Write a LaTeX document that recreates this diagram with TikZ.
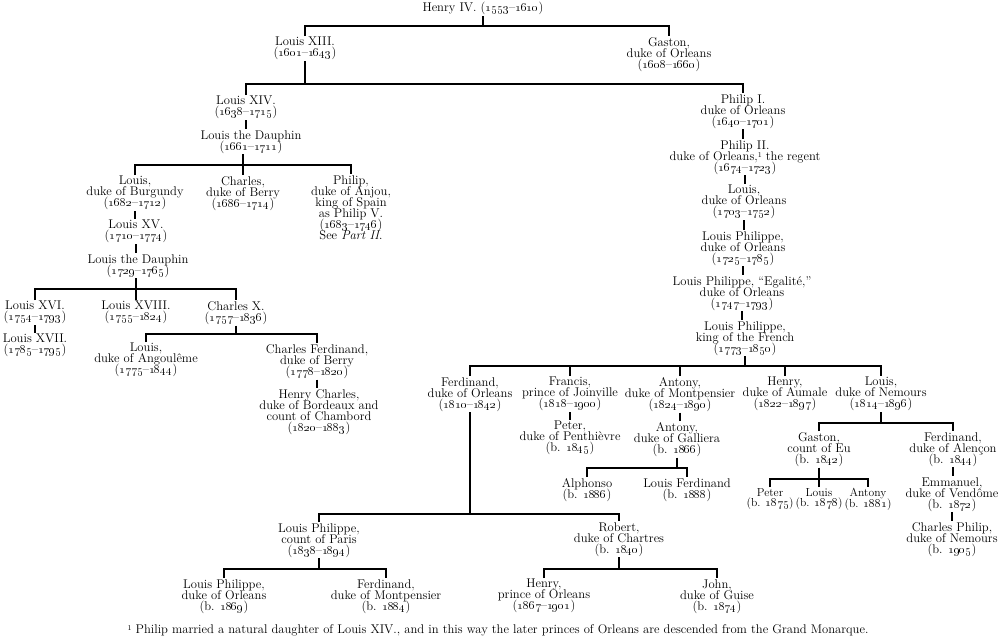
\documentclass[tikz,border=0pt]{standalone}
\newcommand\yr[2]{(\oldstylenums{#1}--\oldstylenums{#2})}
\newcommand\bn[1]{(b. \oldstylenums{#1})}
\newcommand\fnmark{\smash{\raisebox{2.6pt}{\fontsize{7.5}{7.5}\selectfont 1}}}
\newcommand\famfont{\fontsize{12.6}{11}\selectfont\lineskiplimit=-20pt\relax}
\newcommand\smallfamfont{\fontsize{11.6}{10.5}\selectfont\lineskiplimit=-20pt\relax}
\begin{document}
\begin{tikzpicture}[x=1pt,y=-1pt,
  person/.style={anchor=north,yshift=6.9pt,align=center,inner sep=1pt,font=\famfont},
  small/.style={person,font=\smallfamfont},
  link/.style={line width=1.1pt,line join=miter}]
\useasboundingbox (0,0) rectangle (1000,638);
% bar levels
\coordinate (barA) at (0,26);
\coordinate (barB) at (0,84);
\coordinate (barC) at (0,165);
\coordinate (barD) at (0,289);
\coordinate (barE) at (0,334);
\coordinate (barF) at (0,366);
\coordinate (barG) at (0,468);
\coordinate (barH) at (0,514);
\coordinate (barI) at (0,569);
\coordinate (barJ) at (0,423);
\coordinate (barK) at (0,479);
% people
\node[person] (henry) at (483,8) {Henry IV. \yr{1553}{1610}};
\node[person] (louis13) at (305,43) {Louis XIII.\\\yr{1601}{1643}};
\node[person] (gaston) at (669,43) {Gaston,\\duke of Orleans\\\yr{1608}{1660}};
\node[person] (louis14) at (246,102) {Louis XIV.\\\yr{1638}{1715}};
\node[person] (dauphinA) at (251,136) {Louis the Dauphin\\\yr{1661}{1711}};
\node[person] (burgundy) at (135,182) {Louis,\\duke of Burgundy\\\yr{1682}{1712}};
\node[person] (berryA) at (243,182) {Charles,\\duke of Berry\\\yr{1686}{1714}};
\node[person] (anjou) at (351,181) {Philip,\\duke of Anjou,\\king of Spain\\as Philip V.\\\yr{1683}{1746}\\See \textit{Part II}.};
\node[person] (louis15) at (136,226) {Louis XV.\\\yr{1710}{1774}};
\node[person] (dauphinB) at (138,260) {Louis the Dauphin\\\yr{1729}{1765}};
\node[person] (louis16) at (35,307) {Louis XVI.\\\yr{1754}{1793}};
\node[person] (louis18) at (136,307) {Louis XVIII.\\\yr{1755}{1824}};
\node[person] (charles10) at (236,307) {Charles X.\\\yr{1757}{1836}};
\node[person] (louis17) at (35,340) {Louis XVII.\\\yr{1785}{1795}};
\node[person] (angouleme) at (146,349) {Louis,\\duke of Angoulême\\\yr{1775}{1844}};
\node[person] (berryB) at (317,350) {Charles Ferdinand,\\duke of Berry\\\yr{1778}{1820}};
\node[person] (chambord) at (319,395) {Henry Charles,\\duke of Bordeaux and\\count of Chambord\\\yr{1820}{1883}};
\node[person] (philip1) at (743,100) {Philip I.\\duke of Orleans\\\yr{1640}{1701}};
\node[person] (philip2) at (745,146) {Philip II.\\duke of Orleans,\fnmark\ the regent\\\yr{1674}{1723}};
\node[person] (louisorl) at (744,191) {Louis,\\duke of Orleans\\\yr{1703}{1752}};
\node[person] (lpA) at (743,237) {Louis Philippe,\\duke of Orleans\\\yr{1725}{1785}};
\node[person] (egalite) at (742,282) {Louis Philippe, ``Egalité,''\\duke of Orleans\\\yr{1747}{1793}};
\node[person] (lpking) at (745,327) {Louis Philippe,\\king of the French\\\yr{1773}{1850}};
\node[person] (ferdorl) at (470,383) {Ferdinand,\\duke of Orleans\\\yr{1810}{1842}};
\node[person] (francis) at (570,383) {Francis,\\prince of Joinville\\\yr{1818}{1900}};
\node[person] (antony) at (680,383) {Antony,\\duke of Montpensier\\\yr{1824}{1890}};
\node[person] (aumale) at (785,383) {Henry,\\duke of Aumale\\\yr{1822}{1897}};
\node[person] (nemours) at (881,383) {Louis,\\duke of Nemours\\\yr{1814}{1896}};
\node[person] (penthievre) at (570,427) {Peter,\\duke of Penthièvre\\\bn{1845}};
\node[person] (galliera) at (677,428) {Antony,\\duke of Galliera\\\bn{1866}};
\node[person] (alphonso) at (587,484) {Alphonso\\\bn{1886}};
\node[person] (louisferd) at (687,484) {Louis Ferdinand\\\bn{1888}};
\node[person] (eu) at (819,438) {Gaston,\\count of Eu\\\bn{1842}};
\node[person] (alencon) at (953,438) {Ferdinand,\\duke of Alençon\\\bn{1844}};
\node[small] (peter) at (770,494) {Peter\\\bn{1875}};
\node[small] (louisb) at (819,494) {Louis\\\bn{1878}};
\node[small] (antonyb) at (868,494) {Antony\\\bn{1881}};
\node[person] (vendome) at (952,483) {Emmanuel,\\duke of Vendôme\\\bn{1872}};
\node[person] (nemoursB) at (952,528) {Charles Philip,\\duke of Nemours\\\bn{1905}};
\node[person] (paris) at (319,529) {Louis Philippe,\\count of Paris\\\yr{1838}{1894}};
\node[person] (chartres) at (619,528) {Robert,\\duke of Chartres\\\bn{1840}};
\node[person] (lpduke) at (224,585) {Louis Philippe,\\duke of Orleans\\\bn{1869}};
\node[person] (montpensier) at (386,585) {Ferdinand,\\duke of Montpensier\\\bn{1884}};
\node[person] (henryorl) at (544,585) {Henry,\\prince of Orleans\\\yr{1867}{1901}};
\node[person] (guise) at (717,585) {John,\\duke of Guise\\\bn{1874}};
\node[person] (note) at (498,630) {\fnmark\ Philip married a natural daughter of Louis XIV., and in this way the later princes of Orleans are descended from the Grand Monarque.};
% connectors
\begin{scope}[link]
\draw (henry.south) -- (henry.south |- barA);
\draw (louis13.north) -- (louis13.north |- barA) -- (gaston.north |- barA) -- (gaston.north);
\draw (louis13.south) -- (louis13.south |- barB);
\draw (louis14.north) -- (louis14.north |- barB) -- (philip1.north |- barB) -- (philip1.north);
\draw (louis14.south) -- (louis14.south |- dauphinA.north);
\draw (berryA.north |- dauphinA.south) -- (berryA.north);
\draw (burgundy.north) -- (burgundy.north |- barC) -- (anjou.north |- barC) -- (anjou.north);
\draw (burgundy.south) -- (burgundy.south |- louis15.north);
\draw (louis15.south) -- (louis15.south |- dauphinB.north);
\draw (louis18.north |- dauphinB.south) -- (louis18.north);
\draw (louis16.north) -- (louis16.north |- barD) -- (charles10.north |- barD) -- (charles10.north);
\draw (louis16.south) -- (louis16.south |- louis17.north);
\draw (charles10.south) -- (charles10.south |- barE);
\draw (angouleme.north) -- (angouleme.north |- barE) -- (berryB.north |- barE) -- (berryB.north);
\draw (berryB.south) -- (berryB.south |- chambord.north);
\draw (philip1.south) -- (philip1.south |- philip2.north);
\draw (philip2.south) -- (philip2.south |- louisorl.north);
\draw (louisorl.south) -- (louisorl.south |- lpA.north);
\draw (lpA.south) -- (lpA.south |- egalite.north);
\draw (egalite.south) -- (egalite.south |- lpking.north);
\draw (lpking.south) -- (lpking.south |- barF);
\draw (ferdorl.north) -- (ferdorl.north |- barF) -- (nemours.north |- barF) -- (nemours.north);
\foreach \n in {francis,antony,aumale} \draw (\n.north) -- (\n.north |- barF);
\draw (francis.south) -- (francis.south |- penthievre.north);
\draw (antony.south) -- (antony.south |- galliera.north);
\draw (galliera.south) -- (galliera.south |- barG);
\draw (alphonso.north) -- (alphonso.north |- barG) -- (louisferd.north |- barG) -- (louisferd.north);
\draw (ferdorl.south) -- (ferdorl.south |- barH);
\draw (paris.north) -- (paris.north |- barH) -- (chartres.north |- barH) -- (chartres.north);
\draw (paris.south) -- (paris.south |- barI);
\draw (lpduke.north) -- (lpduke.north |- barI) -- (montpensier.north |- barI) -- (montpensier.north);
\draw (chartres.south) -- (chartres.south |- barI);
\draw (henryorl.north) -- (henryorl.north |- barI) -- (guise.north |- barI) -- (guise.north);
\draw (nemours.south) -- (nemours.south |- barJ);
\draw (eu.north) -- (eu.north |- barJ) -- (alencon.north |- barJ) -- (alencon.north);
\draw (eu.south) -- (eu.south |- barK);
\draw (peter.north) -- (peter.north |- barK) -- (antonyb.north |- barK) -- (antonyb.north);
\draw (louisb.north) -- (louisb.north |- barK);
\draw (alencon.south) -- (alencon.south |- vendome.north);
\draw (vendome.south) -- (vendome.south |- nemoursB.north);
\end{scope}
\end{tikzpicture}
\end{document}
